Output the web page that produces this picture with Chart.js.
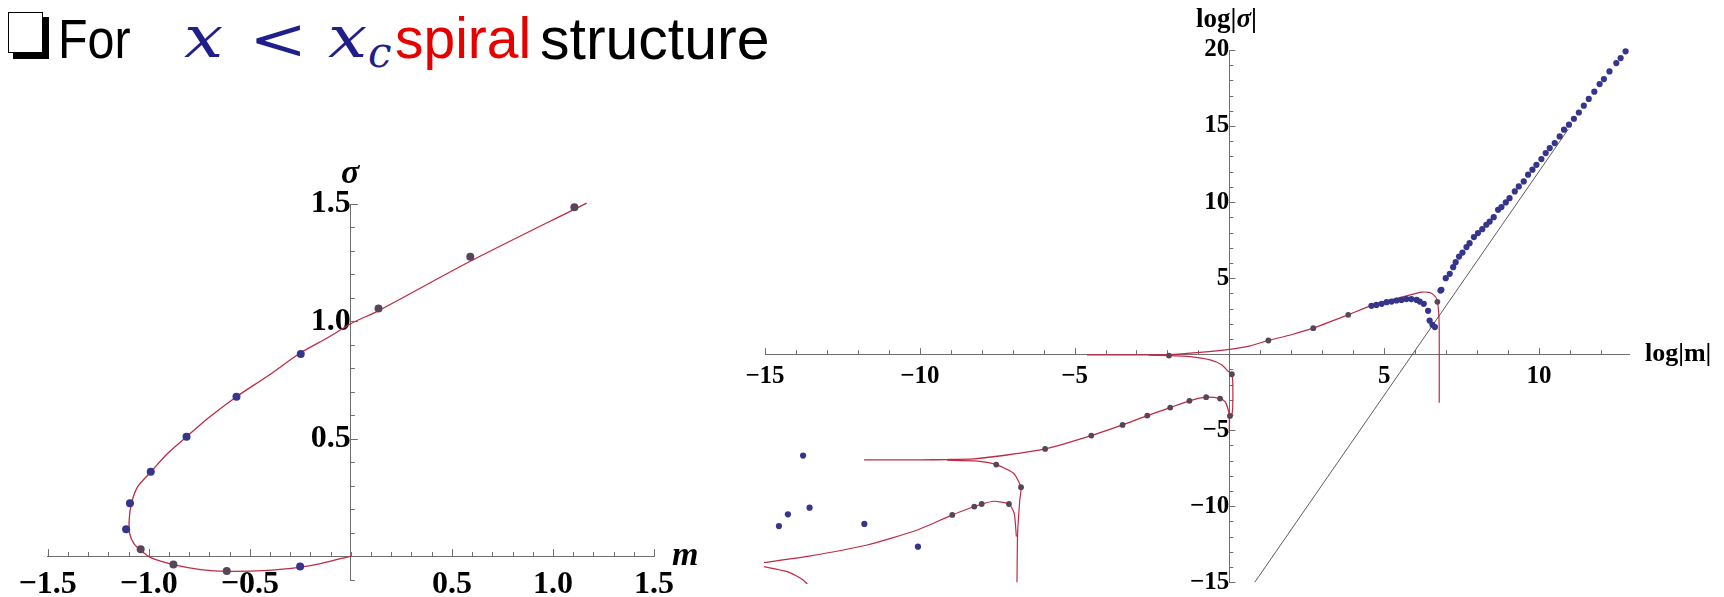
<!DOCTYPE html>
<html>
<head>
<meta charset="utf-8">
<script src="https://cdn.jsdelivr.net/npm/chart.js@4.4.1/dist/chart.umd.min.js"></script>
<style>
  html, body { margin: 0; padding: 0; background: #fff; }
  body { width: 1724px; height: 597px; overflow: hidden; position: relative; }
  canvas { position: absolute; }
  .t { position: absolute; white-space: nowrap; transform-origin: 0 0; }
</style>
</head>
<body>
<!-- title -->
<div style="position:absolute;left:13px;top:17px;width:36px;height:42px;background:#000"></div>
<div style="position:absolute;left:8px;top:12px;width:33px;height:39px;background:#fff;border:1.5px solid #000"></div>
<div class="t" style="left:58px;top:7px;font:55px 'Liberation Sans';color:#000;transform:scaleX(0.88)">For</div>
<div class="t" style="left:184px;top:3px;font:italic 58px 'DejaVu Serif';color:#1f1f8c;transform:scaleX(1.2)">x</div>
<div class="t" style="left:249px;top:5px;font:58px 'DejaVu Serif';color:#1f1f8c;transform:scaleX(1.2)">&lt;</div>
<div class="t" style="left:328px;top:3px;font:italic 58px 'DejaVu Serif';color:#1f1f8c;transform:scaleX(1.2)">x</div>
<div class="t" style="left:368px;top:28px;font:italic 42px 'DejaVu Serif';color:#1f1f8c">c</div>
<div class="t" style="left:395px;top:5px;font:57px 'Liberation Sans';color:#e60000">spiral</div>
<div class="t" style="left:540px;top:5px;font:59px 'Liberation Sans';color:#000">structure</div>

<canvas id="left" width="720" height="490" style="left:0;top:150px"></canvas>
<canvas id="right" width="1024" height="640" style="left:700px;top:0"></canvas>

<!-- axis labels -->
<div class="t" style="left:341px;top:153px;font:italic bold 34px 'Liberation Serif'">σ</div>
<div class="t" style="left:672px;top:535px;font:italic bold 34px 'Liberation Serif'">m</div>
<div class="t" style="left:1196px;top:3px;font:bold 27px 'Liberation Serif'">log|<i>σ</i>|</div>
<div class="t" style="left:1645px;top:338px;font:bold 26px 'Liberation Serif'">log|m|</div>

<script>
// ---------- left plot: sigma vs m ----------
const mTicks = [-1.5, -1.0, -0.5, 0.5, 1.0, 1.5];
const mTickLabels = ['\u22121.5', '\u22121.0', '\u22120.5', '0.5', '1.0', '1.5'];
const sigTicks = [0.5, 1.0, 1.5];
const sigTickLabels = ['0.5', '1.0', '1.5'];

const leftBlueDots = [
  {x: -1.112, y: 0.114}, {x: -1.093, y: 0.225}, {x: -0.990, y: 0.359},
  {x: -0.813, y: 0.508}, {x: -0.566, y: 0.679}, {x: -0.248, y: 0.861},
  {x: -0.251, y: -0.044}
];
const leftGreyDots = [
  {x: -1.040, y: 0.029}, {x: -0.878, y: -0.036}, {x: -0.614, y: -0.064},
  {x: 0.137, y: 1.055}, {x: 0.591, y: 1.275}, {x: 1.106, y: 1.486}
];
const leftCurve = [
  {x: 0, y: 0}, {x: -0.15, y: -0.032}, {x: -0.248, y: -0.047}, {x: -0.413, y: -0.061},
  {x: -0.610, y: -0.065}, {x: -0.743, y: -0.058}, {x: -0.878, y: -0.037},
  {x: -0.990, y: -0.007}, {x: -1.040, y: 0.024}, {x: -1.073, y: 0.053},
  {x: -1.094, y: 0.095}, {x: -1.097, y: 0.152}, {x: -1.086, y: 0.223},
  {x: -1.056, y: 0.294}, {x: -0.990, y: 0.358}, {x: -0.907, y: 0.437},
  {x: -0.813, y: 0.508}, {x: -0.710, y: 0.585}, {x: -0.566, y: 0.679},
  {x: -0.413, y: 0.766}, {x: -0.248, y: 0.866}, {x: -0.115, y: 0.930},
  {x: 0, y: 0.99}, {x: 0.140, y: 1.047}, {x: 0.591, y: 1.256}, {x: 1.167, y: 1.504}
];

// ---------- right plot: log|sigma| vs log|m| ----------
const logmTicks = [-15, -10, -5, 5, 10];
const logmTickLabels = ['\u221215', '\u221210', '\u22125', '5', '10'];
const logsTicks = [-15, -10, -5, 5, 10, 15, 20];
const logsTickLabels = ['\u221215', '\u221210', '\u22125', '5', '10', '15', '20'];

const bigDots = [
  {x: 6.82, y: 4.18}, {x: 6.85, y: 4.23}, {x: 6.99, y: 5.00}, {x: 7.12, y: 5.28},
  {x: 7.23, y: 5.72}, {x: 7.31, y: 6.05}, {x: 7.42, y: 6.42}, {x: 7.53, y: 6.68},
  {x: 7.66, y: 7.04}, {x: 7.76, y: 7.30}, {x: 7.90, y: 7.70}, {x: 8.03, y: 7.96},
  {x: 8.17, y: 8.22}, {x: 8.30, y: 8.51}, {x: 8.41, y: 8.72}, {x: 8.54, y: 9.01},
  {x: 8.68, y: 9.49}, {x: 8.79, y: 9.67}, {x: 8.93, y: 9.98}, {x: 9.05, y: 10.26},
  {x: 9.22, y: 10.70}, {x: 9.35, y: 11.03}, {x: 9.51, y: 11.36}, {x: 9.65, y: 11.80},
  {x: 9.79, y: 12.13}, {x: 9.92, y: 12.45}, {x: 10.08, y: 12.83}, {x: 10.22, y: 13.22},
  {x: 10.35, y: 13.55}, {x: 10.51, y: 13.88}, {x: 10.67, y: 14.32}, {x: 10.81, y: 14.76},
  {x: 10.97, y: 15.09}, {x: 11.13, y: 15.48}, {x: 11.29, y: 15.89}, {x: 11.45, y: 16.34},
  {x: 11.61, y: 16.78}, {x: 11.79, y: 17.26}, {x: 11.96, y: 17.76}, {x: 12.10, y: 18.09},
  {x: 12.28, y: 18.59}, {x: 12.50, y: 19.14}, {x: 12.64, y: 19.47}, {x: 12.80, y: 19.91},
  // arc near the turning point
  {x: 4.59, y: 3.18}, {x: 4.75, y: 3.24}, {x: 4.92, y: 3.31}, {x: 5.08, y: 3.42},
  {x: 5.24, y: 3.46}, {x: 5.40, y: 3.53}, {x: 5.56, y: 3.57}, {x: 5.72, y: 3.62},
  {x: 5.88, y: 3.62}, {x: 6.05, y: 3.57}, {x: 6.15, y: 3.46}, {x: 6.28, y: 3.31},
  {x: 6.42, y: 2.85}, {x: 6.47, y: 2.21}, {x: 6.56, y: 1.93}, {x: 6.64, y: 1.78},
  // scattered points, lower left
  {x: -13.77, y: -6.67}, {x: -14.26, y: -10.53}, {x: -13.56, y: -10.09},
  {x: -14.55, y: -11.3}, {x: -11.79, y: -11.16}, {x: -10.06, y: -12.66}
];
const curveDots = [
  {x: 1.26, y: 0.9}, {x: 2.71, y: 1.71}, {x: 3.84, y: 2.59}, {x: 6.72, y: 3.44},
  {x: -1.95, y: -0.09}, {x: 0.08, y: -1.32},
  {x: -5.95, y: -6.23}, {x: -4.46, y: -5.35}, {x: -3.45, y: -4.65}, {x: -2.65, y: -4.04},
  {x: -1.91, y: -3.51}, {x: -1.29, y: -3.07}, {x: -0.75, y: -2.83}, {x: -0.30, y: -2.92},
  {x: 0.02, y: -4.06}, {x: -7.53, y: -7.26}, {x: -6.73, y: -8.75},
  {x: -8.95, y: -10.57}, {x: -8.24, y: -10.02}, {x: -8.0, y: -9.85}, {x: -7.12, y: -9.85}
];
const branchUpper = [
  {x: -4.6, y: -0.05}, {x: -3.0, y: -0.05}, {x: -1.95, y: -0.03}, {x: -0.95, y: 0.12},
  {x: 0, y: 0.32}, {x: 0.67, y: 0.55}, {x: 1.26, y: 0.9}, {x: 2.0, y: 1.28},
  {x: 2.71, y: 1.71}, {x: 3.84, y: 2.59}, {x: 4.65, y: 3.24}, {x: 5.51, y: 3.72},
  {x: 6.0, y: 3.98}, {x: 6.21, y: 4.08}, {x: 6.45, y: 4.06}, {x: 6.6, y: 3.9},
  {x: 6.71, y: 3.57}, {x: 6.76, y: 2.8}, {x: 6.78, y: 1.5}, {x: 6.78, y: -3.2}
];
const branchNearZero = [
  {x: -2.6, y: -0.06}, {x: -1.95, y: -0.09}, {x: -1.27, y: -0.16}, {x: -0.62, y: -0.38},
  {x: -0.25, y: -0.70}, {x: -0.03, y: -1.14}, {x: 0.08, y: -1.32}, {x: 0.11, y: -1.91},
  {x: 0.11, y: -3.45}, {x: 0.08, y: -4.1}
];
const branchMid = [
  {x: -11.8, y: -6.95}, {x: -10.0, y: -6.95}, {x: -9.12, y: -6.93}, {x: -8.26, y: -6.88},
  {x: -7.18, y: -6.63}, {x: -5.95, y: -6.23}, {x: -4.46, y: -5.35}, {x: -3.45, y: -4.65},
  {x: -2.65, y: -4.04}, {x: -1.91, y: -3.51}, {x: -1.29, y: -3.07}, {x: -0.75, y: -2.83},
  {x: -0.30, y: -2.92}, {x: -0.14, y: -3.12}, {x: -0.05, y: -3.55}, {x: 0.0, y: -4.08},
  {x: 0.0, y: -5.2}
];
const branchMidDown = [
  {x: -9.12, y: -6.97}, {x: -8.2, y: -7.02}, {x: -7.53, y: -7.26}, {x: -6.97, y: -7.83},
  {x: -6.73, y: -8.75}, {x: -6.77, y: -9.59}, {x: -6.84, y: -11.78}, {x: -6.86, y: -15.0}
];
const branchLow = [
  {x: -15.03, y: -13.7}, {x: -13.63, y: -13.3}, {x: -11.7, y: -12.55}, {x: -10.08, y: -11.56},
  {x: -8.95, y: -10.57}, {x: -8.24, y: -10.02}, {x: -8.0, y: -9.85}, {x: -7.61, y: -9.67},
  {x: -7.12, y: -9.85}, {x: -6.95, y: -10.46}, {x: -6.88, y: -12.0}
];
const branchCorner = [
  {x: -15.03, y: -13.97}, {x: -14.28, y: -14.3}, {x: -13.85, y: -14.74}, {x: -13.63, y: -15.1}
];
const asymptote = [{x: 0.82, y: -15}, {x: 10.95, y: 14.8}];

const RED = '#bf2a45', NAVY = '#35358c', GREY = '#574659', AXIS = '#6e6e6e';

// small helper for the Mathematica style ticks (pointing into the first quadrant)
function stepList(a, b, s) {
  const out = [];
  for (let v = a; v <= b + 1e-9; v += s) out.push(Math.round(v * 1000) / 1000);
  return out;
}
const innerTicks = {
  id: 'innerTicks',
  beforeDatasetsDraw(chart, args, o) {
    const {ctx, scales: {x, y}} = chart;
    const x0 = x.getPixelForValue(0), y0 = y.getPixelForValue(0);
    const isMajor = (v, list) => list.some(t => Math.abs(t - v) < 1e-6);
    ctx.save();
    ctx.strokeStyle = AXIS;
    ctx.lineWidth = 1;
    ctx.beginPath();
    o.xMinor.forEach(v => {
      const px = Math.round(x.getPixelForValue(v)) + 0.5;
      const len = isMajor(v, o.xMajor) ? o.major : o.minor;
      ctx.moveTo(px, y0); ctx.lineTo(px, y0 - len);
    });
    o.yMinor.forEach(v => {
      const py = Math.round(y.getPixelForValue(v)) + 0.5;
      const len = isMajor(v, o.yMajor) ? o.major : o.minor;
      ctx.moveTo(x0, py); ctx.lineTo(x0 + len, py);
    });
    ctx.stroke();
    ctx.restore();
  }
};

function axis(min, max, where, ticks, labels, size, pad) {
  return {
    type: 'linear', min, max, position: where,
    border: {display: true, color: AXIS, width: 1},
    grid: {display: true, drawOnChartArea: false, drawTicks: false},
    afterBuildTicks: s => { s.ticks = ticks.map(v => ({value: v})); },
    ticks: {
      autoSkip: false, maxRotation: 0, padding: pad, color: '#000',
      font: {family: 'Liberation Serif', size, weight: 'bold'},
      callback: (v, i) => labels[i]
    }
  };
}

function dots(data, color, r) {
  return {data, showLine: false, pointRadius: r, pointBackgroundColor: color,
          pointBorderWidth: 0, clip: false};
}
function curve(data, color, w, tension) {
  return {data, showLine: true, borderColor: color, borderWidth: w, pointRadius: 0,
          tension, fill: false, clip: false};
}

new Chart(document.getElementById('left'), {
  type: 'scatter',
  data: {datasets: [
    dots(leftBlueDots, NAVY, 4),
    dots(leftGreyDots, GREY, 4),
    curve(leftCurve, RED, 1.3, 0.3)
  ]},
  options: {
    responsive: false, animation: false, devicePixelRatio: 1,
    layout: {padding: {left: 47.7, right: 66, top: 54, bottom: 59.3}},
    plugins: {legend: {display: false}, tooltip: {enabled: false},
      innerTicks: {xMinor: stepList(-1.5, 1.5, 0.1), xMajor: mTicks,
                   yMinor: stepList(-0.1, 1.5, 0.1), yMajor: sigTicks, major: 7, minor: 4}},
    scales: {
      x: axis(-1.5, 1.5, {y: 0}, mTicks, mTickLabels, 32, 9),
      y: axis(-0.105, 1.5, {x: 0}, sigTicks, sigTickLabels, 32, 7)
    }
  },
  plugins: [innerTicks]
});

new Chart(document.getElementById('right'), {
  type: 'scatter',
  data: {datasets: [
    dots(bigDots, NAVY, 3.1),
    dots(curveDots, GREY, 2.9),
    curve(asymptote, '#333', 0.8, 0),
    curve(branchUpper, RED, 1.2, 0.2),
    curve(branchNearZero, RED, 1.2, 0.2),
    curve(branchMid, RED, 1.3, 0.2),
    curve(branchMidDown, RED, 1.2, 0.2),
    curve(branchLow, RED, 1.2, 0.2),
    curve(branchCorner, RED, 1.2, 0.2)
  ]},
  options: {
    responsive: false, animation: false, devicePixelRatio: 1,
    layout: {padding: {left: 65, right: 95, top: 50, bottom: 57.7}},
    plugins: {legend: {display: false}, tooltip: {enabled: false},
      innerTicks: {xMinor: stepList(-15, 12, 1), xMajor: logmTicks,
                   yMinor: stepList(-15, 20, 1), yMajor: logsTicks, major: 6, minor: 4}},
    scales: {
      x: axis(-15, 12.91, {y: 0}, logmTicks, logmTickLabels, 25, 7),
      y: axis(-15, 20, {x: 0}, logsTicks, logsTickLabels, 25, 5)
    }
  },
  plugins: [innerTicks]
});
</script>
</body>
</html>
